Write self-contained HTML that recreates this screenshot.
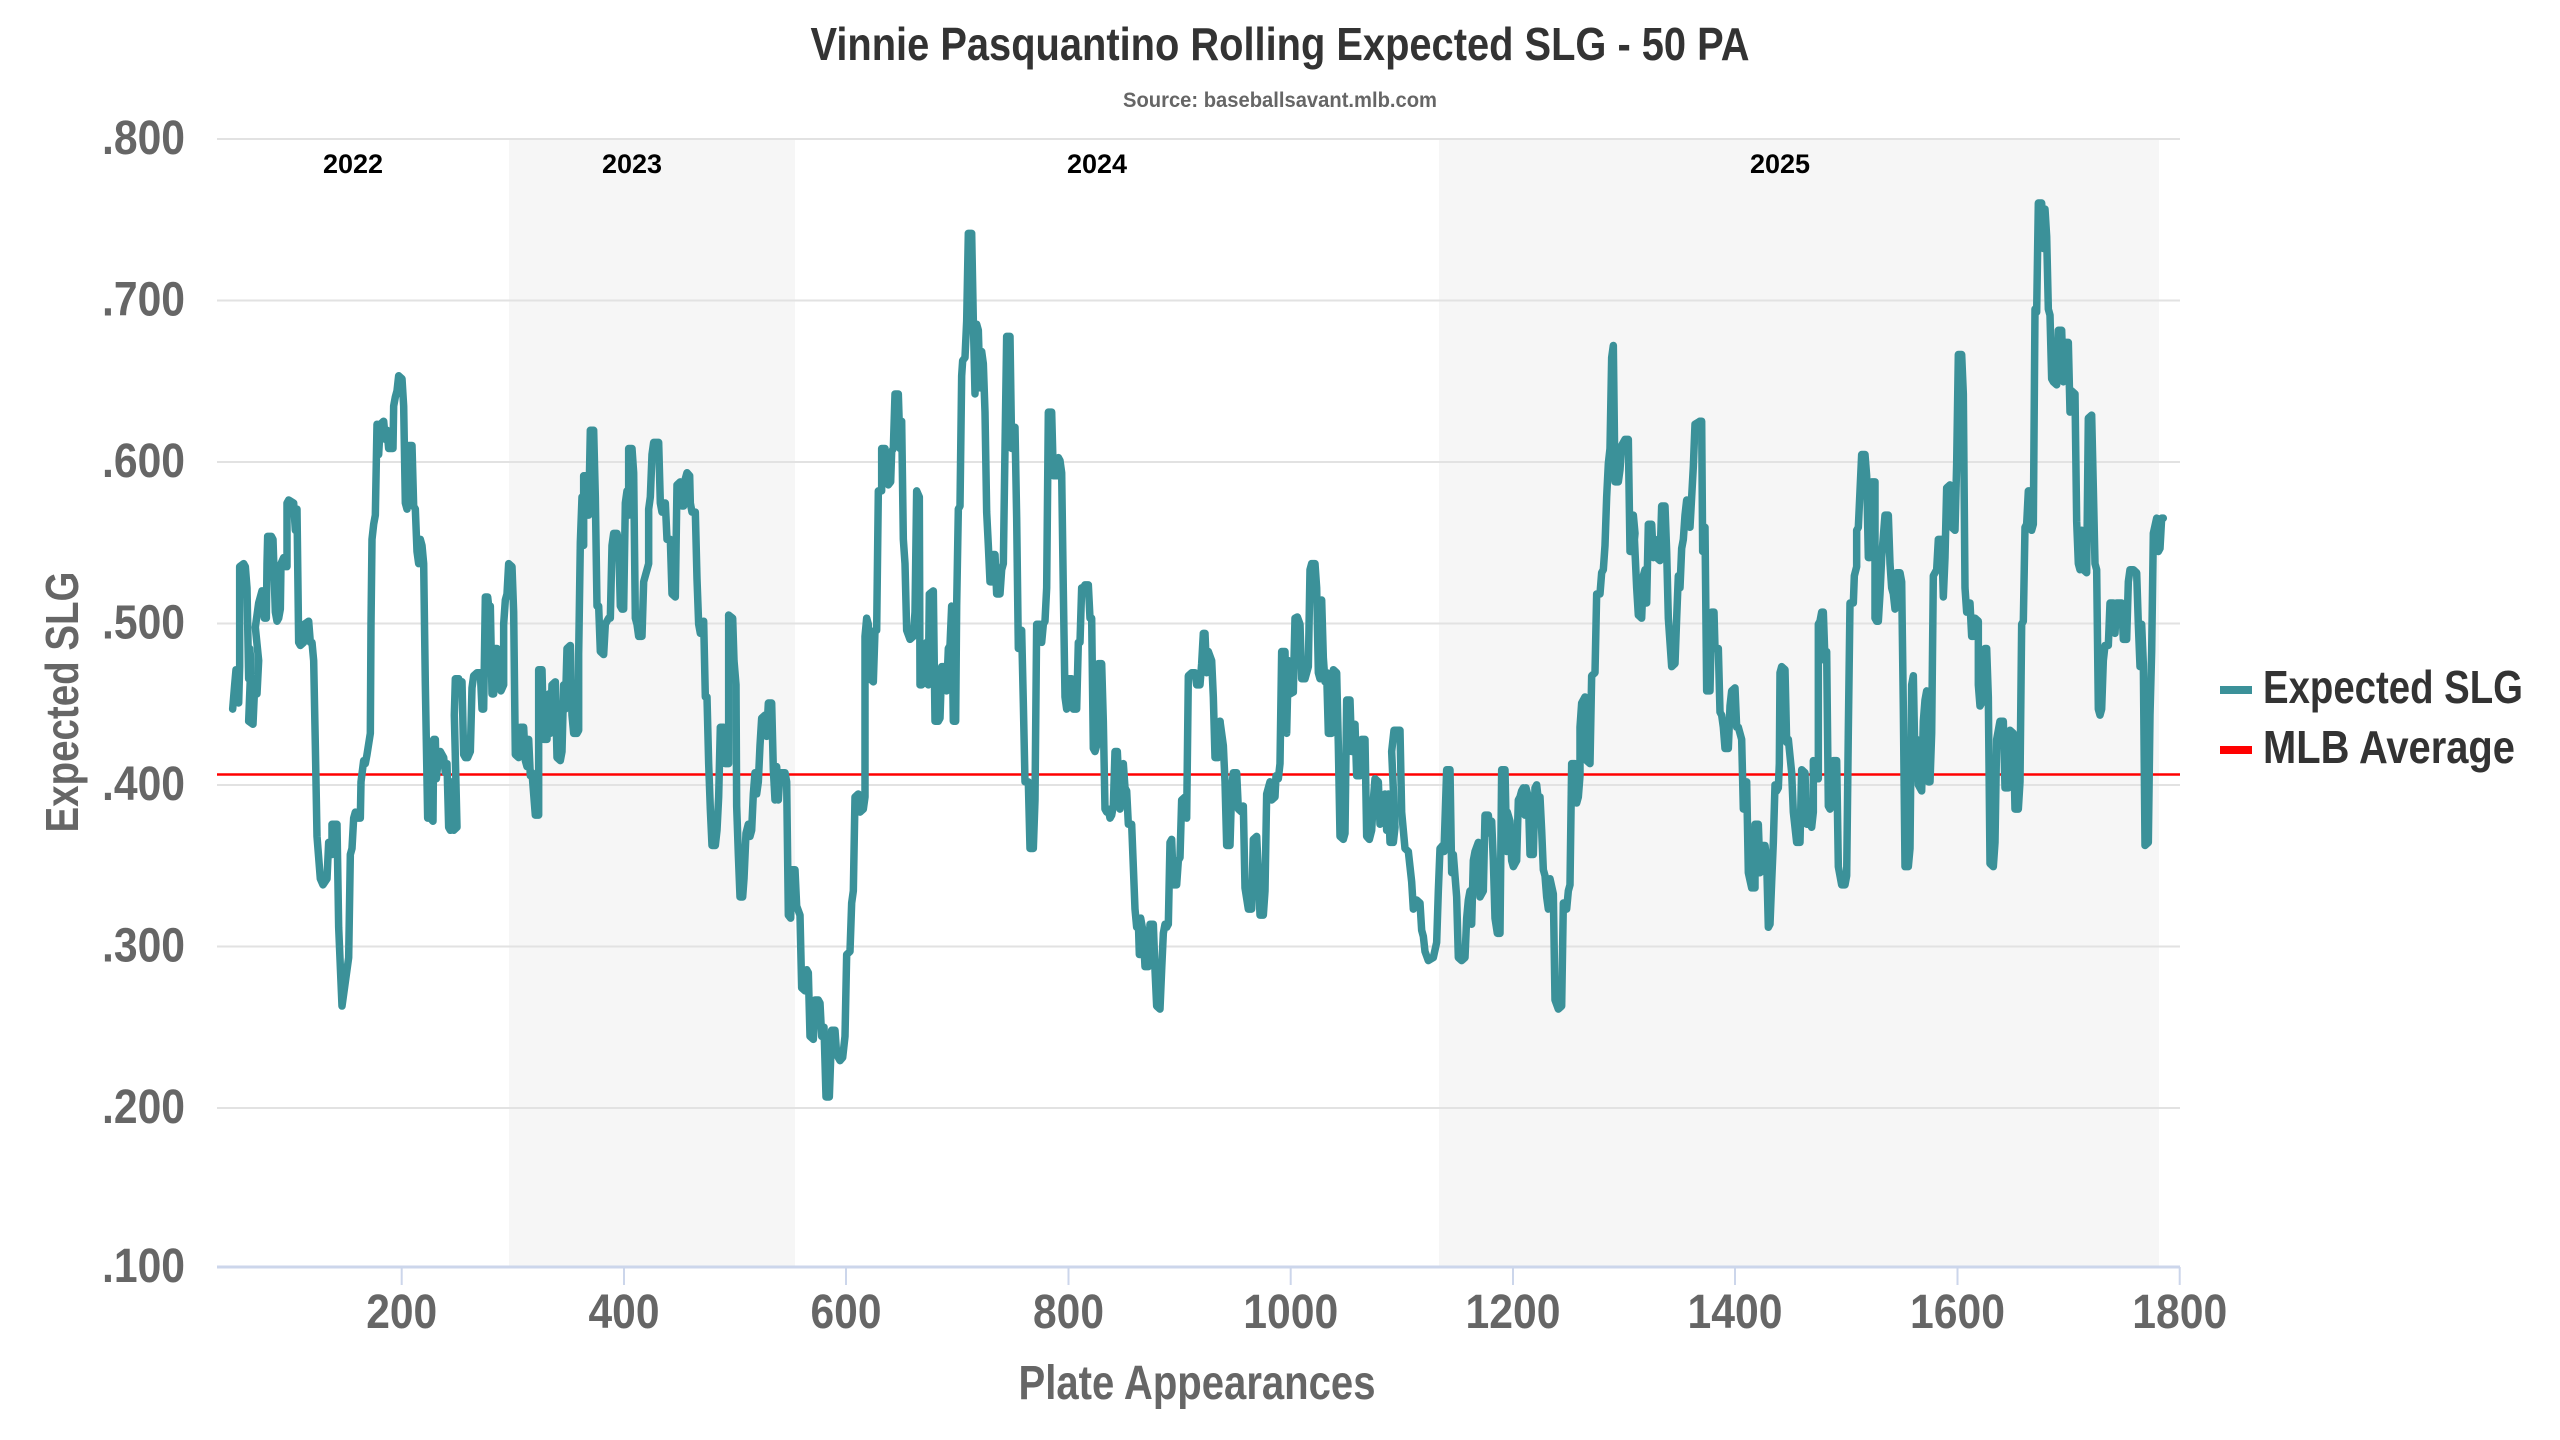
<!DOCTYPE html>
<html><head><meta charset="utf-8"><style>html,body{margin:0;padding:0;background:#fff}svg{display:block}</style></head><body>
<svg width="2560" height="1440" viewBox="0 0 2560 1440" xmlns="http://www.w3.org/2000/svg" font-family="'Liberation Sans Narrow','Liberation Sans',sans-serif" font-weight="bold">
<rect x="509" y="139" width="286" height="1128" fill="#f6f6f6"/>
<rect x="1439" y="139" width="720" height="1128" fill="#f6f6f6"/>
<g stroke="#e2e2e2" stroke-width="2">
<line x1="217" x2="2180" y1="139" y2="139"/><line x1="217" x2="2180" y1="300.5" y2="300.5"/><line x1="217" x2="2180" y1="462" y2="462"/><line x1="217" x2="2180" y1="623.5" y2="623.5"/><line x1="217" x2="2180" y1="785" y2="785"/><line x1="217" x2="2180" y1="946.5" y2="946.5"/><line x1="217" x2="2180" y1="1108" y2="1108"/>
</g>
<line x1="217" x2="2180" y1="1267" y2="1267" stroke="#ccd6eb" stroke-width="3"/>
<g stroke="#ccd6eb" stroke-width="2"><line x1="401.7" x2="401.7" y1="1267" y2="1285"/><line x1="624" x2="624" y1="1267" y2="1285"/><line x1="846" x2="846" y1="1267" y2="1285"/><line x1="1068.5" x2="1068.5" y1="1267" y2="1285"/><line x1="1290.7" x2="1290.7" y1="1267" y2="1285"/><line x1="1513" x2="1513" y1="1267" y2="1285"/><line x1="1735" x2="1735" y1="1267" y2="1285"/><line x1="1957.5" x2="1957.5" y1="1267" y2="1285"/><line x1="2179.7" x2="2179.7" y1="1267" y2="1285"/></g>
<g fill="#000" font-size="27" text-anchor="middle"><text x="353" y="173">2022</text><text x="632" y="173">2023</text><text x="1097" y="173">2024</text><text x="1780" y="173">2025</text></g>
<line x1="217" x2="2180" y1="774.5" y2="774.5" stroke="#ff0000" stroke-width="2.5"/>
<g fill="none" stroke="#3b9199" stroke-width="7.5" stroke-linejoin="round" stroke-linecap="round">
<g transform="translate(217,200) scale(0.33333,0.60606)"><polyline vector-effect="non-scaling-stroke" points="47,840 53,800 57,775 62,775 65,830 68,770 68,605 80,600 85,605 90,640 95,790 98,740 102,760 95,860 108,865 112,815 120,815 125,760 115,705 125,665 130,655 135,645 140,645 142,690 148,690 150,600 152,555 163,555 168,560 175,680 180,695 185,690 190,675 192,600 200,590 205,605 210,605 210,500 215,495 230,500 235,545 240,510 245,730 250,735 260,730 262,700 275,695 280,730 285,730 290,760 295,900 300,1050 305,1085 310,1120 318,1130 330,1120 335,1060 345,1080 345,1030 360,1030 365,1200 375,1330 385,1290 395,1250 400,1080 405,1070 410,1020 415,1010 420,1020 430,1020 432,960 440,925 445,930 450,915 460,880 462,700 465,560 470,535 475,520 480,370 485,420 490,370 500,365 505,395 510,380 515,410 528,410 530,340 535,325 540,315 545,290 555,295 560,340 565,500 570,510 575,405 585,405 590,505 595,510 600,580 605,600 610,560 615,570 620,600 625,800 632,1020 635,975 640,1020 648,1025 650,890 655,890 658,955 665,915 670,910 680,920 685,945 690,930 695,1035 700,1040 705,960 710,1040 720,1035 712,850 715,790 725,790 730,800 735,795 740,915 745,920 752,920 760,910 765,805 770,785 780,780 790,780 795,840 800,840 805,655 812,655 815,670 820,670 825,815 830,815 835,740 840,740 845,800 852,810 860,800 860,700 865,660 870,650 875,600 885,605 890,680 895,915 905,920 910,870 920,870 925,925 930,935 935,890 940,950 945,945 955,1015 965,1015 965,775 975,775 980,890 990,890 995,815 1000,880 1005,800 1015,795 1020,920 1030,925 1035,910 1040,800 1045,840 1050,740 1060,735 1065,850 1070,880 1080,880 1085,875 1085,750 1090,565 1095,490 1100,570 1100,455 1105,455 1110,520 1115,520 1120,380 1130,380 1135,490 1140,670 1145,670 1150,745 1160,750 1165,700 1175,690 1180,690 1185,570 1190,550 1200,550 1205,565 1210,670 1215,675 1220,675 1225,500 1230,480 1235,520 1235,410 1245,410 1250,450 1255,690 1260,700 1265,720 1275,720 1280,630 1285,620 1290,610 1295,600 1295,510 1300,490 1305,420 1310,400 1325,400 1330,500 1335,515 1340,500 1345,500 1350,560 1360,560 1365,650 1375,655 1380,470 1390,465 1395,505 1400,505 1405,460 1410,450 1418,455 1420,500 1425,515 1435,515 1440,625 1445,700 1450,715 1455,700 1460,695 1465,820 1470,820 1475,930 1480,1005 1485,1065 1495,1065 1500,1040 1505,985 1510,870 1520,870 1525,930 1535,930 1535,685"/></g>
<g transform="translate(720,200) scale(0.33333,0.60606)"><polyline vector-effect="non-scaling-stroke" points="26,685 38,690 42,760 48,800 50,1000 55,1080 60,1150 68,1150 72,1120 78,1045 85,1030 90,1050 95,1040 100,980 105,945 110,980 115,960 120,900 125,855 135,850 140,885 145,830 155,830 160,940 165,990 170,935 175,990 180,945 195,945 200,960 205,1180 212,1185 215,1105 225,1105 230,1165 240,1180 245,1300 255,1305 260,1270 265,1275 270,1380 280,1385 285,1320 295,1320 300,1325 305,1380 312,1365 318,1480 328,1480 335,1370 345,1370 350,1410 360,1420 368,1415 375,1380 380,1245 390,1240 395,1160 400,1140 405,985 415,980 420,1010 430,1005 435,985 435,720 440,690 445,700 450,790 460,795 465,710 470,710 475,480 485,480 485,410 495,410 500,460 505,470 512,465 515,415 520,410 525,320 535,320 540,410 545,365 550,560 555,600 560,710 570,725 580,720 585,680 590,480 598,490 600,800 605,800 612,735 620,730 625,800 628,650 640,645 645,860 655,860 660,855 665,770 675,770 680,810 685,740 690,735 695,670 700,860 707,860 710,670 715,510 720,505 725,290 728,265 735,260 740,200 745,55 755,55 760,200 765,320 770,205 775,215 780,310 785,250 790,270 795,350 800,515 805,570 810,630 818,630 820,585 825,585 830,650 840,650 845,610 850,600 855,410 860,225 870,225 875,410 880,380 885,375 890,525 895,740 902,740 905,710 910,830 915,960 925,960 930,1070 940,1070 945,990 950,700 960,700 965,730 970,700 975,695 980,640 985,350 995,350 1000,455 1010,455 1015,425 1020,430 1025,450 1030,645 1035,820 1040,840 1045,790 1055,790 1060,840 1070,840 1075,730 1080,730 1085,640 1090,640 1095,635 1105,635 1110,690 1115,690 1120,905 1125,910 1130,900 1135,765 1145,765 1150,860 1155,1005 1160,1010 1165,1005 1170,1020 1175,1015 1180,1000 1185,910 1192,910 1200,1005 1210,930 1215,970 1220,975 1225,1030 1235,1030 1240,1100 1245,1170 1250,1200 1255,1190 1258,1245 1262,1185 1270,1210 1275,1265 1285,1265 1290,1195 1300,1195 1305,1270 1310,1330 1320,1335 1325,1270 1330,1210 1335,1195 1340,1200 1345,1195 1350,1060 1355,1055 1360,1130 1370,1130 1375,1090 1380,1085 1385,990 1395,985 1400,1020 1405,785 1415,780 1425,780 1430,800 1440,800 1445,765 1450,715 1455,715 1460,780 1465,745 1475,760 1480,820 1485,920 1495,920 1500,860"/></g>
<g transform="translate(1220,200) scale(0.33333,0.60606)"><polyline vector-effect="non-scaling-stroke" points="0,860 10,900 15,960 20,1065 30,1065 35,970 40,945 50,945 55,1005 65,1010 70,1000 75,1135 85,1170 95,1170 100,1055 110,1050 115,1110 120,1180 130,1180 135,1140 140,980 150,960 155,990 165,985 168,950 175,955 180,930 185,745 195,745 200,880 205,760 210,815 220,812 222,760 225,690 232,688 240,700 245,790 255,790 260,780 265,770 270,610 275,600 285,600 290,640 295,780 300,790 305,660 310,755 315,795 320,780 325,880 335,880 340,775 350,780 355,900 360,1050 370,1055 375,1045 380,825 390,825 395,910 400,910 405,865 410,950 420,950 425,890 435,890 440,1050 448,1055 455,1040 460,990 465,955 475,960 480,1030 490,1025 495,980 500,1040 505,980 510,1060 520,1060 525,1035 515,910 522,875 540,875 545,1010 550,1040 555,1070 565,1075 570,1100 575,1125 580,1170 590,1155 600,1160 605,1205 610,1215 615,1240 625,1255 640,1250 650,1225 655,1140 660,1070 668,1065 672,1075 680,940 690,940 695,1110 700,1080 710,1150 715,1250 725,1255 735,1250 740,1185 745,1155 750,1140 755,1195 760,1090 765,1075 775,1060 780,1150 790,1140 795,1015 805,1015 810,1045 815,1025 820,1090 825,1185 832,1210 840,1210 845,940 855,940 860,1075 862,1010 870,1025 875,1090 880,1100 890,1090 895,990 900,985 905,975 910,970 915,1015 918,970 925,985 930,1080 940,1080 945,970 950,965 955,990 960,985 965,1040 970,1105 975,1115 980,1150 985,1170 990,1120 1000,1145 1005,1320 1015,1335 1025,1330 1030,1160 1040,1170 1045,1140 1050,1130 1055,930 1065,930 1070,995 1075,985 1080,950 1080,870 1085,830 1095,820 1100,925 1110,930 1115,785 1125,780 1130,650 1140,650 1145,615 1150,610 1155,570 1160,490 1165,435 1170,410 1175,260 1180,240 1185,465 1195,465 1200,445 1205,405 1215,395 1225,395 1230,580 1240,580 1245,550 1240,520 1250,640 1255,685 1265,690 1270,620 1275,610 1280,665 1285,535 1295,535 1300,590 1305,560 1310,590 1320,595 1325,505 1335,505 1340,580 1345,690 1355,770 1365,765 1370,690 1375,620 1380,640 1385,575 1390,560 1395,520 1400,495 1405,500 1410,540 1420,440 1425,370 1440,365"/></g>
<g transform="translate(1700,200) scale(0.33333,0.60606)"><polyline vector-effect="non-scaling-stroke" points="0,365 5,365 8,580 15,540 20,810 30,810 35,680 42,680 45,740 55,740 60,845 65,850 70,870 75,905 85,905 90,835 95,810 105,805 110,870 115,870 125,890 130,1005 140,960 145,1110 155,1135 165,1135 165,1030 175,1030 180,1110 185,1065 195,1065 200,1090 205,1200 210,1195 215,1125 220,1060 225,965 230,975 235,970 238,930 240,780 245,770 255,775 260,895 265,890 275,945 280,1010 290,1060 300,1060 305,940 315,945 320,1030 330,1030 335,1035 340,1010 340,925 345,955 355,955 355,700 360,695 365,680 370,680 375,760 380,745 385,1000 390,1005 395,1000 400,925 410,925 415,1100 425,1130 435,1130 440,1115 445,875 450,665 460,665 463,620 470,605 470,545 475,540 480,480 485,420 495,420 500,455 505,590 510,590 515,465 525,465 525,690 530,695 535,695 540,650 545,590 555,520 565,520 570,600 575,640 580,650 585,675 590,615 600,615 605,630 610,840 615,1100 625,1100 630,1070 635,800 640,785 645,930 650,890 655,965 665,975 670,860 675,825 680,810 685,960 690,960 695,880 700,620 710,610 715,560 725,560 730,655 735,590 740,475 750,470 755,540 765,545 770,435 775,255 785,255 790,320 795,640 800,680 810,665 815,720 820,720 825,690 835,695 835,800 840,835 845,830 855,740 860,740 865,820 870,1095 880,1100 885,1060 890,890 900,860 910,860 915,970 925,970 930,875 940,880 945,1005 955,1005 960,960 965,700 970,695 975,540 980,535 985,480 990,480 995,545 1000,535 1005,180 1010,185 1015,5 1025,5 1030,80 1035,15 1040,60 1045,180 1050,190 1055,295 1060,300 1070,305 1075,215 1085,215 1090,300 1095,235 1105,235 1110,350 1115,315 1125,320 1130,530 1135,600 1140,610 1145,545 1150,610 1160,615 1165,360 1175,355 1180,475 1185,600 1190,610 1195,840 1200,850 1205,840 1210,760 1215,735 1225,735 1230,665 1240,665 1245,715 1250,665 1265,665 1270,725 1280,725 1285,630 1290,610 1300,610 1310,615 1315,700 1320,770 1325,700 1330,765 1335,1065 1345,1060 1350,850 1355,745 1360,550 1370,525 1375,580 1380,575 1385,525 1390,525"/></g>
</g>
<g fill="#666" font-size="48" text-anchor="end">
<text x="185" y="154" textLength="83" lengthAdjust="spacingAndGlyphs">.800</text>
<text x="185" y="315.5" textLength="83" lengthAdjust="spacingAndGlyphs">.700</text>
<text x="185" y="477" textLength="83" lengthAdjust="spacingAndGlyphs">.600</text>
<text x="185" y="638.5" textLength="83" lengthAdjust="spacingAndGlyphs">.500</text>
<text x="185" y="800" textLength="83" lengthAdjust="spacingAndGlyphs">.400</text>
<text x="185" y="961.5" textLength="83" lengthAdjust="spacingAndGlyphs">.300</text>
<text x="185" y="1123" textLength="83" lengthAdjust="spacingAndGlyphs">.200</text>
<text x="185" y="1282" textLength="83" lengthAdjust="spacingAndGlyphs">.100</text>
</g>
<g fill="#666" font-size="48" text-anchor="middle">
<text x="401.7" y="1328" textLength="71" lengthAdjust="spacingAndGlyphs">200</text>
<text x="624" y="1328" textLength="71" lengthAdjust="spacingAndGlyphs">400</text>
<text x="846" y="1328" textLength="71" lengthAdjust="spacingAndGlyphs">600</text>
<text x="1068.5" y="1328" textLength="71" lengthAdjust="spacingAndGlyphs">800</text>
<text x="1290.7" y="1328" textLength="95" lengthAdjust="spacingAndGlyphs">1000</text>
<text x="1513" y="1328" textLength="95" lengthAdjust="spacingAndGlyphs">1200</text>
<text x="1735" y="1328" textLength="95" lengthAdjust="spacingAndGlyphs">1400</text>
<text x="1957.5" y="1328" textLength="95" lengthAdjust="spacingAndGlyphs">1600</text>
<text x="2179.7" y="1328" textLength="95" lengthAdjust="spacingAndGlyphs">1800</text>
</g>
<text x="1197" y="1399" fill="#666" font-size="48" text-anchor="middle" textLength="357" lengthAdjust="spacingAndGlyphs">Plate Appearances</text>
<text transform="translate(78,702) rotate(-90)" fill="#666" font-size="46" text-anchor="middle" textLength="261" lengthAdjust="spacingAndGlyphs">Expected SLG</text>
<text x="1280" y="60" fill="#333" font-size="46" text-anchor="middle" textLength="939" lengthAdjust="spacingAndGlyphs">Vinnie Pasquantino Rolling Expected SLG - 50 PA</text>
<text x="1280" y="107" fill="#666" font-size="21" text-anchor="middle" textLength="314" lengthAdjust="spacingAndGlyphs">Source: baseballsavant.mlb.com</text>
<rect x="2220" y="686" width="32" height="8" fill="#3b9199"/>
<rect x="2220" y="746" width="32" height="8" fill="#ff0000"/>
<g fill="#333" font-size="46"><text x="2263" y="703" textLength="260" lengthAdjust="spacingAndGlyphs">Expected SLG</text><text x="2263" y="763" textLength="252" lengthAdjust="spacingAndGlyphs">MLB Average</text></g>
</svg>
</body></html>
